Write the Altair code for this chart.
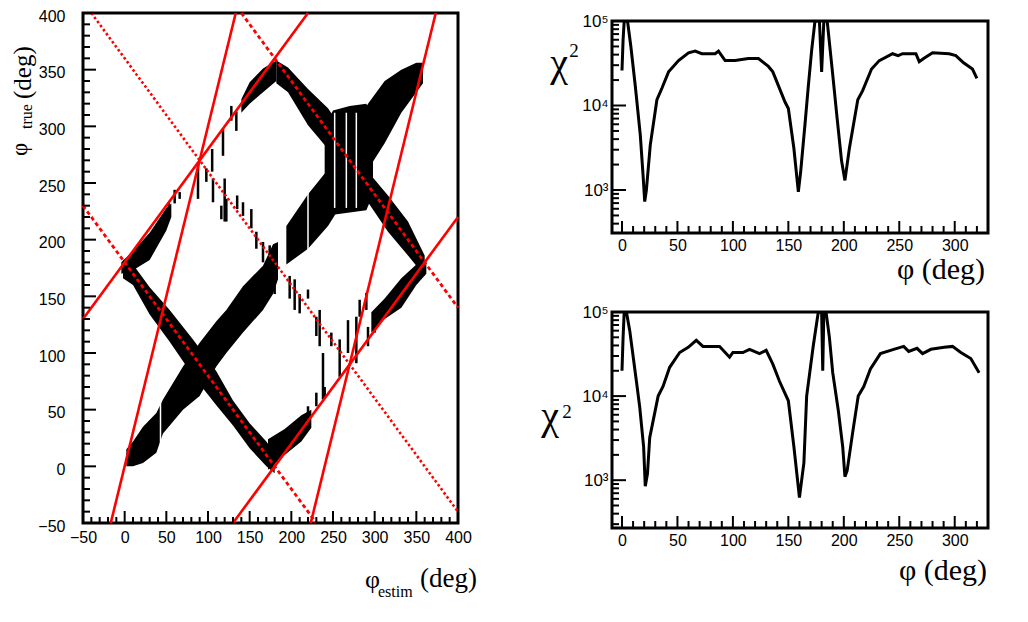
import altair as alt
import pandas as pd

# ---------------- LEFT PANEL DATA (phi_true vs phi_estim) ----------------
# dense bands of the 2-D histogram: x, lower edge, upper edge (deg)
band_A_x  = [2, 10, 22, 38, 46, 70, 90, 110, 122, 142, 166, 178, 184]
band_A_lo = [0, 0, 3, 12, 29, 50, 62, 88, 100, 118, 138, 152, 165]
band_A_hi = [15, 22, 35, 47, 59, 88, 109, 128, 138, 159, 177, 196, 198]

band_B_x  = [-2, 10, 30, 54, 82, 110, 130, 150, 170, 180]
band_B_lo = [166, 160, 134, 110, 80, 54, 36, 16, 0, -6]
band_B_hi = [182, 178, 158, 138, 112, 84, 58, 38, 22, 12]

band_C1_x  = [-4, 10, 30, 50, 56]
band_C1_lo = [170, 173, 182, 208, 220]
band_C1_hi = [180, 190, 206, 228, 232]

band_C2_x  = [140, 150, 166, 182]
band_C2_lo = [312, 320, 330, 340]
band_C2_hi = [324, 339, 351, 358]

band_E_x  = [182, 196, 220, 244, 268, 292, 316, 340, 360]
band_E_lo = [338, 330, 301, 280, 255, 233, 207, 186, 168]
band_E_hi = [358, 352, 333, 316, 290, 260, 239, 216, 186]

band_F_x  = [194, 220, 244, 268, 292, 312, 332, 350, 358]
band_F_lo = [178, 192, 212, 240, 262, 285, 312, 330, 338]
band_F_hi = [212, 240, 262, 290, 320, 340, 350, 356, 356]

band_G1_x  = [172, 192, 212, 224]
band_G1_lo = [-3, 10, 22, 34]
band_G1_hi = [24, 33, 45, 50]

band_G2_x  = [296, 312, 332, 350, 362]
band_G2_lo = [118, 130, 140, 160, 170]
band_G2_hi = [136, 148, 166, 178, 182]

# dense hourglass where the two upper bands cross
band_X_x  = [240, 250, 270, 290, 298]
band_X_lo = [232, 222, 224, 226, 240]
band_X_hi = [300, 314, 318, 320, 305]

# sparse vertical streaks: x, y from, y to
streak_x  = [53, 60, 66, 88, 98, 105, 106, 116, 118, 120, 122, 128, 134, 135, 142,
             152, 158, 166, 174, 175, 180, 198, 204, 210, 220, 230, 234, 238, 248,
             258, 268, 278, 282, 290, 220, 230, 240, 292, 300]
streak_y0 = [224, 232, 236, 236, 251, 260, 233, 218, 274, 216, 216, 305, 296, 227, 221,
             210, 192, 180, 173, 160, 152, 148, 138, 135, 148, 115, 106, 59, 106,
             79, 100, 91, 132, 138, 44, 53, 60, 106, 118]
streak_y1 = [233, 244, 242, 266, 263, 280, 254, 230, 298, 254, 236, 318, 313, 239, 233,
             227, 207, 198, 195, 176, 172, 168, 165, 152, 156, 132, 138, 100, 118,
             112, 129, 132, 147, 153, 53, 65, 70, 123, 135]

# white vertical gaps seen inside the dense bands
gap_x  = [43, 220, 252, 266, 278]
gap_y0 = [8, 190, 228, 228, 228]
gap_y1 = [60, 245, 312, 312, 312]

# red reference lines (endpoints in deg)
line_style = ["solid", "solid", "solid", "solid", "dot", "dash", "dash"]
line_x0 = [-50, 130, -16.7, 223.3, -40, -50, 140]
line_y0 = [130, -50, -50, -50, 400, 230, 400]
line_x1 = [220, 400, 133.3, 373.3, 400, 230, 400]
line_y1 = [400, 220, 400, 400, -40, -50, 140]

left_major = [-50, 0, 50, 100, 150, 200, 250, 300, 350, 400]
left_minor = [v for v in range(-50, 401, 10) if v % 50 != 0]

# ---------------- RIGHT PANELS DATA (chi2 vs phi) ----------------
top_phi = [0, 1, 2, 5, 8, 12, 16.5, 19, 20.5, 22, 25.5, 31.5, 36, 42, 51, 60, 66, 72,
           84, 87, 93, 102, 114, 123, 132, 136, 147, 150, 155, 159, 161, 165, 168,
           171, 174, 178, 180, 182, 185, 189.5, 194, 198, 201, 205, 212.6, 217, 225,
           232, 244, 249, 253, 265, 268, 272, 280, 295, 301, 308, 316, 320]
top_chi2 = [26000, 60000, 100000, 100000, 50000, 17000, 4500, 1500, 730, 1000, 3400,
            11700, 16000, 25000, 34000, 42000, 44000, 41000, 41000, 44000, 34000,
            34000, 36000, 36000, 29000, 25000, 11000, 9200, 3100, 950, 1600, 6000,
            17000, 45000, 100000, 100000, 25000, 100000, 100000, 27000, 7000, 2200,
            1300, 3100, 11700, 15000, 27000, 34000, 41000, 39000, 41000, 41000,
            33000, 36000, 42000, 41000, 39000, 32000, 27000, 21000]

bot_phi = [0, 1, 2, 4, 7, 13, 16, 19.5, 21, 23, 25, 32.6, 37, 43, 52, 59.7, 67, 73,
           88, 97, 100, 109, 115, 124, 130, 136, 142, 150, 155, 160, 162, 164, 166.5,
           172.5, 177, 180, 181, 182, 184, 187, 190, 195, 199, 201, 203, 208, 213,
           218, 224, 233, 245, 254, 258.5, 266, 271, 278.5, 290.5, 298, 305.5,
           314.5, 322]
bot_chi2 = [20000, 50000, 100000, 100000, 60000, 15000, 7400, 2500, 850, 1200, 3200,
            10000, 13000, 22000, 33000, 38000, 46000, 39000, 39000, 29000, 33000,
            33000, 36000, 32000, 35000, 24000, 15000, 8800, 2500, 620, 1000, 1600,
            10000, 40000, 100000, 100000, 20000, 100000, 100000, 50000, 19000, 6800,
            2500, 1100, 1300, 3700, 10000, 13000, 21000, 32000, 36000, 39000, 34000,
            37000, 32000, 36000, 38000, 39000, 33000, 28000, 19000]

r_x_major = [0, 50, 100, 150, 200, 250, 300]
r_x_minor = [v for v in range(10, 330, 10) if v % 50 != 0]
r_y_major = [1000, 10000, 100000]
r_y_minor = [300, 400, 500, 600, 700, 800, 900,
             2000, 3000, 4000, 5000, 6000, 7000, 8000, 9000,
             20000, 30000, 40000, 50000, 60000, 70000, 80000, 90000]

# ---------------- BUILD TABLES ----------------
bands = {
    "A": (band_A_x, band_A_lo, band_A_hi),
    "B": (band_B_x, band_B_lo, band_B_hi),
    "C1": (band_C1_x, band_C1_lo, band_C1_hi),
    "C2": (band_C2_x, band_C2_lo, band_C2_hi),
    "E": (band_E_x, band_E_lo, band_E_hi),
    "F": (band_F_x, band_F_lo, band_F_hi),
    "G1": (band_G1_x, band_G1_lo, band_G1_hi),
    "G2": (band_G2_x, band_G2_lo, band_G2_hi),
    "X": (band_X_x, band_X_lo, band_X_hi),
}
rows = []
for name, (xs, los, his) in bands.items():
    for a, b, c in zip(xs, los, his):
        rows.append({"band": name, "x": a, "lo": b, "hi": c})
df_bands = pd.DataFrame(rows)
df_streak = pd.DataFrame({"x": streak_x, "y0": streak_y0, "y1": streak_y1})
df_gap = pd.DataFrame({"x": gap_x, "y0": gap_y0, "y1": gap_y1})
df_lines = pd.DataFrame({"style": line_style, "x0": line_x0, "y0": line_y0,
                         "x1": line_x1, "y1": line_y1})
df_lx_maj = pd.DataFrame({"v": left_major})
df_lx_min = pd.DataFrame({"v": left_minor})
df_top = pd.DataFrame({"phi": top_phi, "chi2": top_chi2})
df_bot = pd.DataFrame({"phi": bot_phi, "chi2": bot_chi2})
df_rx_maj = pd.DataFrame({"v": r_x_major})
df_rx_min = pd.DataFrame({"v": r_x_minor})
df_ry_maj = pd.DataFrame({"v": r_y_major})
ONE = pd.DataFrame({"a": [0]})

LABEL_FONT = "Liberation Sans"
SERIF = "Liberation Serif"

# ---------------- LEFT PANEL ----------------
WL, HL = 375, 510
XL = alt.Scale(domain=[-50, 400], nice=False, zero=False)
YL = alt.Scale(domain=[-50, 400], nice=False, zero=False)
ax_lx = alt.Axis(values=left_major, ticks=False, domain=False, grid=False, title=None,
                 labelPadding=6, labelFontSize=16, labelFont=LABEL_FONT, labelColor="black",
                 labelFlush=False, labelOverlap=False)
ax_ly = alt.Axis(values=left_major, ticks=False, domain=False, grid=False, title=None,
                 labelPadding=18, labelFontSize=16, labelFont=LABEL_FONT, labelColor="black",
                 labelFlush=False, labelOverlap=False, labelOffset=3)

areas = alt.Chart(df_bands).mark_area(color="black", opacity=1, interpolate="linear").encode(
    x=alt.X("x:Q", scale=XL, axis=ax_lx),
    y=alt.Y("lo:Q", scale=YL, axis=ax_ly),
    y2="hi:Q",
    detail="band:N",
)
streaks = alt.Chart(df_streak).mark_rule(color="black", strokeWidth=2.5).encode(
    x=alt.X("x:Q", scale=XL, axis=ax_lx),
    y=alt.Y("y0:Q", scale=YL, axis=ax_ly), y2="y1:Q",
)
gaps = alt.Chart(df_gap).mark_rule(color="white", strokeWidth=1.5).encode(
    x=alt.X("x:Q", scale=XL, axis=ax_lx),
    y=alt.Y("y0:Q", scale=YL, axis=ax_ly), y2="y1:Q",
)


def red(style, dash, width):
    mk = dict(color="#ff0000", strokeWidth=width)
    if dash:
        mk["strokeDash"] = dash
    return alt.Chart(df_lines).transform_filter(alt.datum.style == style).mark_rule(**mk).encode(
        x=alt.X("x0:Q", scale=XL, axis=ax_lx), x2="x1:Q",
        y=alt.Y("y0:Q", scale=YL, axis=ax_ly), y2="y1:Q",
    )


red_solid = red("solid", None, 2.6)
red_dot = red("dot", [2.5, 2.5], 2.6)
red_dash = red("dash", [4, 3], 2.8)

lx_maj = alt.Chart(df_lx_maj).mark_rule(color="black", strokeWidth=2).encode(
    x=alt.X("v:Q", scale=XL, axis=ax_lx), y=alt.value(HL), y2=alt.value(HL - 12))
lx_min = alt.Chart(df_lx_min).mark_rule(color="black", strokeWidth=2).encode(
    x=alt.X("v:Q", scale=XL, axis=ax_lx), y=alt.value(HL), y2=alt.value(HL - 6))
ly_maj = alt.Chart(df_lx_maj).mark_rule(color="black", strokeWidth=2).encode(
    y=alt.Y("v:Q", scale=YL, axis=ax_ly), x=alt.value(0), x2=alt.value(13))
ly_min = alt.Chart(df_lx_min).mark_rule(color="black", strokeWidth=2).encode(
    y=alt.Y("v:Q", scale=YL, axis=ax_ly), x=alt.value(0), x2=alt.value(7))


def txt(s, x, y, size, angle=0, align="left", baseline="alphabetic", font=SERIF):
    mk = dict(text=s, fontSize=size, align=align, baseline=baseline, font=font, color="black")
    if angle:
        mk["angle"] = angle
    return alt.Chart(ONE).mark_text(**mk).encode(x=alt.value(x), y=alt.value(y))


left_titles = [
    txt("φ", -56, 143, 23, angle=270),
    txt("true", -51, 116, 16, angle=270),
    txt("(deg)", -52, 86, 25, angle=270),
    txt("φ", 282, 575, 26),
    txt("estim", 295, 584, 16),
    txt("(deg)", 337, 574, 27),
]

left = alt.layer(areas, streaks, gaps, red_dot, red_dash, red_solid,
                 lx_maj, lx_min, ly_maj, ly_min, *left_titles).properties(width=WL, height=HL)

# ---------------- RIGHT PANELS ----------------
WR = 376
XR = alt.Scale(domain=[-9, 330], nice=False, zero=False)
sup = "datum.value >= 99999 ? '10⁵' : datum.value >= 9999 ? '10⁴' : '10³'"
ax_rx = alt.Axis(values=r_x_major, ticks=False, domain=False, grid=False, title=None,
                 labelPadding=4, labelFontSize=16, labelFont=LABEL_FONT, labelColor="black",
                 labelFlush=False, labelOverlap=False)
ax_ry = alt.Axis(values=r_y_major, ticks=False, domain=False, grid=False, title=None,
                 labelPadding=4, labelFontSize=17, labelFont=LABEL_FONT, labelColor="black",
                 labelFlush=False, labelOverlap=False, labelExpr=sup)


def chi_panel(df, ymin, H, chi_pos, sup_pos, phi_pos):
    YR = alt.Scale(type="log", domain=[ymin, 100000], nice=False)
    minors = pd.DataFrame({"v": [v for v in r_y_minor if v > ymin]})
    curve = alt.Chart(df).mark_line(color="black", strokeWidth=3, clip=True).encode(
        x=alt.X("phi:Q", scale=XR, axis=ax_rx),
        y=alt.Y("chi2:Q", scale=YR, axis=ax_ry),
    )
    xmaj = alt.Chart(df_rx_maj).mark_rule(color="black", strokeWidth=2).encode(
        x=alt.X("v:Q", scale=XR, axis=ax_rx), y=alt.value(H), y2=alt.value(H - 12))
    xmin = alt.Chart(df_rx_min).mark_rule(color="black", strokeWidth=2).encode(
        x=alt.X("v:Q", scale=XR, axis=ax_rx), y=alt.value(H), y2=alt.value(H - 7))
    ymaj = alt.Chart(df_ry_maj).mark_rule(color="black", strokeWidth=2).encode(
        y=alt.Y("v:Q", scale=YR, axis=ax_ry), x=alt.value(0), x2=alt.value(14))
    ymn = alt.Chart(minors).mark_rule(color="black", strokeWidth=2).encode(
        y=alt.Y("v:Q", scale=YR, axis=ax_ry), x=alt.value(0), x2=alt.value(7))
    titles = [
        txt("χ", chi_pos[0], chi_pos[1], 40, align="center", baseline="middle"),
        txt("2", sup_pos[0], sup_pos[1], 19, align="center", baseline="middle"),
        txt("φ (deg)", phi_pos[0], phi_pos[1], 30, align="right"),
    ]
    return alt.layer(curve, xmaj, xmin, ymaj, ymn, *titles).properties(width=WR, height=H)


top = chi_panel(df_top, 310, 212, (-53, 43), (-38, 30), (373, 258))
bot = chi_panel(df_bot, 270, 216, (-62, 105), (-45, 100), (375, 268))

spacer = alt.Chart(ONE).mark_point(opacity=0).properties(
    width=WR, height=8, view=alt.ViewBackground(strokeOpacity=0))

right = alt.vconcat(spacer, alt.vconcat(top, bot, spacing=79, bounds="flush"),
                    spacing=0, bounds="flush")

chart = alt.hconcat(left, right, spacing=154, bounds="flush").properties(
    padding={"left": -1, "top": -2, "right": 0, "bottom": 0}
).configure(font=LABEL_FONT).configure_view(stroke="black", strokeWidth=3)

chart.save("out.html", embed_options={"renderer": "svg", "actions": False})
